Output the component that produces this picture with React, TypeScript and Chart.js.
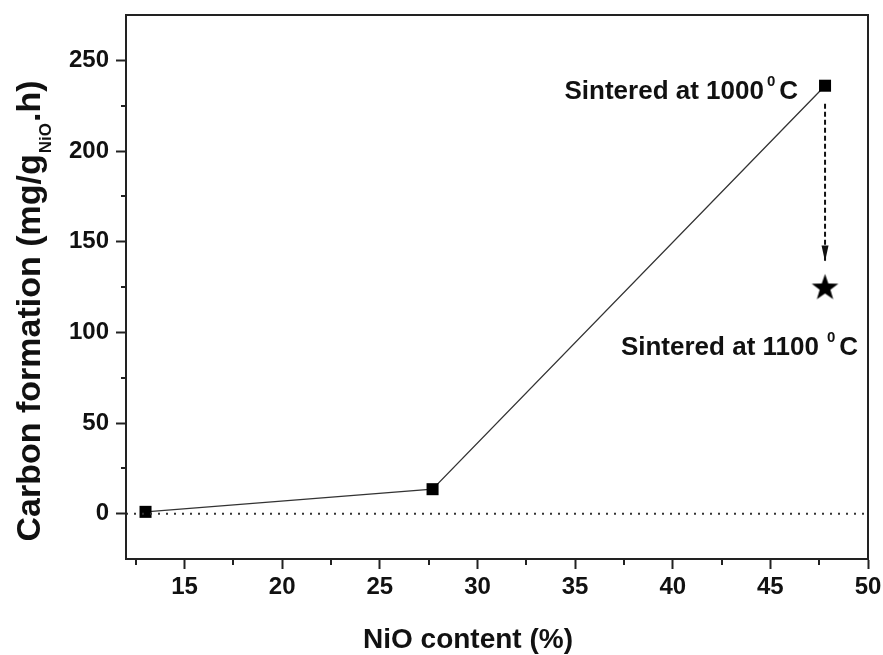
import React, { useEffect, useRef } from "react";
import { Chart, registerables } from "chart.js";
Chart.register(...registerables);

// ---- data ----
const nioContent = [13, 27.7, 47.8];
const carbonFormation = [1, 13.5, 236];
const sintered1100X = [47.8];
const sintered1100Y = [125];
const zeroLineX = [12, 50];
const zeroLineY = [0, 0];
const arrowX = [47.8, 47.8];
const arrowY = [226, 139];
const xTicks = [15, 20, 25, 30, 35, 40, 45, 50];
const xMinorTicks = [12.5, 17.5, 22.5, 27.5, 32.5, 37.5, 42.5, 47.5];
const yTicks = [0, 50, 100, 150, 200, 250];
const yMinorTicks = [25, 75, 125, 175, 225];
const annotationTexts = ["Sintered at 1000", "Sintered at 1100"];
const annotationSup = "0";
const annotationUnit = "C";
const xTitle = "NiO content (%)";
const yTitleMain = "Carbon formation (mg/g";
const yTitleSub = "NiO";
const yTitleEnd = ".h)";

const FONT = "'Liberation Sans', Arial, sans-serif";
const INK = "#111";

function makeStar(size: number): HTMLCanvasElement {
  const c = document.createElement("canvas");
  c.width = size;
  c.height = size;
  const ctx = c.getContext("2d")!;
  const cx = size / 2;
  const cy = size / 2 + 1;
  const R = size / 2 - 0.5;
  const r = R * 0.4;
  ctx.beginPath();
  for (let i = 0; i < 10; i++) {
    const a = -Math.PI / 2 + (i * Math.PI) / 5;
    const rad = i % 2 === 0 ? R : r;
    const px = cx + rad * Math.cos(a);
    const py = cy + rad * Math.sin(a);
    if (i === 0) ctx.moveTo(px, py);
    else ctx.lineTo(px, py);
  }
  ctx.closePath();
  ctx.fillStyle = "#000";
  ctx.fill();
  return c;
}

function drawSupLabel(ctx: CanvasRenderingContext2D, text: string, rightX: number, baseY: number, gap1: number) {
  ctx.save();
  ctx.fillStyle = INK;
  ctx.textBaseline = "alphabetic";
  ctx.textAlign = "left";
  const mainFont = `bold 26px ${FONT}`;
  const supFont = `bold 15px ${FONT}`;
  ctx.font = mainFont;
  const w1 = ctx.measureText(text).width;
  const wC = ctx.measureText(annotationUnit).width;
  ctx.font = supFont;
  const wS = ctx.measureText(annotationSup).width;
  const gap2 = 4;
  const total = w1 + gap1 + wS + gap2 + wC;
  let x = rightX - total;
  ctx.font = mainFont;
  ctx.fillText(text, x, baseY);
  x += w1 + gap1;
  ctx.font = supFont;
  ctx.fillText(annotationSup, x, baseY - 13);
  x += wS + gap2;
  ctx.font = mainFont;
  ctx.fillText(annotationUnit, x, baseY);
  ctx.restore();
}

const customPlugin = {
  id: "customDecor",
  afterDraw(chart: any) {
    const ctx: CanvasRenderingContext2D = chart.ctx;
    const { left, right, top, bottom } = chart.chartArea;
    const xs = chart.scales.x;
    const ys = chart.scales.y;
    ctx.save();
    // frame
    ctx.strokeStyle = "#222";
    ctx.lineWidth = 2;
    ctx.strokeRect(left, top, right - left, bottom - top);
    // minor ticks
    ctx.lineWidth = 2;
    ctx.beginPath();
    xMinorTicks.forEach((v) => {
      const px = Math.round(xs.getPixelForValue(v));
      ctx.moveTo(px, bottom);
      ctx.lineTo(px, bottom + 6);
    });
    yMinorTicks.forEach((v) => {
      const py = Math.round(ys.getPixelForValue(v));
      ctx.moveTo(left, py);
      ctx.lineTo(left - 5, py);
    });
    ctx.stroke();

    // arrow head
    const ax = xs.getPixelForValue(arrowX[1]);
    const ay = ys.getPixelForValue(arrowY[1]);
    ctx.fillStyle = "#111";
    ctx.beginPath();
    ctx.moveTo(ax, ay);
    ctx.lineTo(ax - 3.5, ay - 16);
    ctx.lineTo(ax + 3.5, ay - 16);
    ctx.closePath();
    ctx.fill();

    // annotations
    const p1x = xs.getPixelForValue(nioContent[2]);
    const p1y = ys.getPixelForValue(carbonFormation[2]);
    drawSupLabel(ctx, annotationTexts[0], p1x - 27, p1y + 13, 3);
    const p2x = xs.getPixelForValue(sintered1100X[0]);
    const p2y = ys.getPixelForValue(sintered1100Y[0]);
    drawSupLabel(ctx, annotationTexts[1], p2x + 33, p2y + 68, 8);

    // x title
    ctx.fillStyle = INK;
    ctx.font = `bold 28px ${FONT}`;
    ctx.textAlign = "center";
    ctx.textBaseline = "alphabetic";
    ctx.fillText(xTitle, (left + right) / 2 - 29, 648);

    // y title (rotated, with subscript)
    const mainF = `bold 34px ${FONT}`;
    const subF = `bold 17px ${FONT}`;
    ctx.font = mainF;
    const wMain = ctx.measureText(yTitleMain).width;
    const wEnd = ctx.measureText(yTitleEnd).width;
    ctx.font = subF;
    const wSub = ctx.measureText(yTitleSub).width;
    const total = wMain + wSub + wEnd + 2;
    const cy = 311;
    ctx.translate(40, cy + total / 2);
    ctx.rotate(-Math.PI / 2);
    ctx.textAlign = "left";
    ctx.font = mainF;
    ctx.fillText(yTitleMain, 0, 0);
    ctx.font = subF;
    ctx.fillText(yTitleSub, wMain + 1, 11);
    ctx.font = mainF;
    ctx.fillText(yTitleEnd, wMain + wSub + 2, 0);
    ctx.restore();
  },
};

export default function App() {
  const canvasRef = useRef<HTMLCanvasElement | null>(null);

  useEffect(() => {
    const canvas = canvasRef.current;
    if (!canvas) return;
    const star = makeStar(29);
    const toPts = (xa: number[], ya: number[]) => xa.map((x, i) => ({ x, y: ya[i] }));

    const chart = new Chart(canvas, {
      type: "scatter",
      data: {
        datasets: [
          {
            label: "zero",
            data: toPts(zeroLineX, zeroLineY),
            showLine: true,
            borderColor: "#333",
            borderWidth: 2,
            borderDash: [2, 6],
            pointRadius: 0,
          },
          {
            label: "carbon",
            data: toPts(nioContent, carbonFormation),
            showLine: true,
            borderColor: "#333",
            borderWidth: 1.3,
            pointStyle: "rect",
            pointRadius: 8.5,
            pointBackgroundColor: "#000",
            pointBorderColor: "#000",
            pointBorderWidth: 0,
          },
          {
            label: "arrow",
            data: toPts(arrowX, arrowY),
            showLine: true,
            borderColor: "#111",
            borderWidth: 2,
            borderDash: [5, 3],
            pointRadius: 0,
          },
          {
            label: "1100",
            data: toPts(sintered1100X, sintered1100Y),
            pointStyle: star as any,
            pointRadius: 14,
          },
        ],
      },
      options: {
        responsive: false,
        animation: false,
        devicePixelRatio: 1,
        layout: { padding: { top: 14, right: 15, left: 0, bottom: 0 } },
        plugins: {
          legend: { display: false },
          tooltip: { enabled: false },
          title: { display: false },
        },
        events: [],
        scales: {
          x: {
            type: "linear",
            min: 12,
            max: 50,
            afterBuildTicks: (s: any) => {
              s.ticks = xTicks.map((v) => ({ value: v }));
            },
            afterFit: (s: any) => {
              s.height = 96;
              s.paddingLeft = 0;
              s.paddingRight = 0;
              s.paddingTop = 0;
              s.paddingBottom = 0;
            },
            grid: {
              drawOnChartArea: false,
              drawTicks: true,
              tickLength: 10,
              tickWidth: 2,
              tickColor: "#222",
            },
            border: { display: true, width: 2, color: "#222" },
            ticks: {
              color: INK,
              font: { family: FONT, weight: "bold", size: 24 },
              padding: 4,
              maxRotation: 0,
            },
          },
          y: {
            type: "linear",
            min: -25,
            max: 275,
            afterBuildTicks: (s: any) => {
              s.ticks = yTicks.map((v) => ({ value: v }));
            },
            afterFit: (s: any) => {
              s.width = 126;
              s.paddingLeft = 0;
              s.paddingRight = 0;
              s.paddingTop = 0;
              s.paddingBottom = 0;
            },
            grid: {
              drawOnChartArea: false,
              drawTicks: true,
              tickLength: 10,
              tickWidth: 2,
              tickColor: "#222",
            },
            border: { display: true, width: 2, color: "#222" },
            ticks: {
              color: INK,
              font: { family: FONT, weight: "bold", size: 24 },
              padding: 7,
            },
          },
        },
      },
      plugins: [customPlugin],
    } as any);

    return () => {
      chart.destroy();
    };
  }, []);

  return (
    <div style={{ position: "absolute", left: 0, top: 0, width: 883, height: 655, background: "#fff" }}>
      <canvas ref={canvasRef} width={883} height={655} style={{ display: "block" }} />
    </div>
  );
}
